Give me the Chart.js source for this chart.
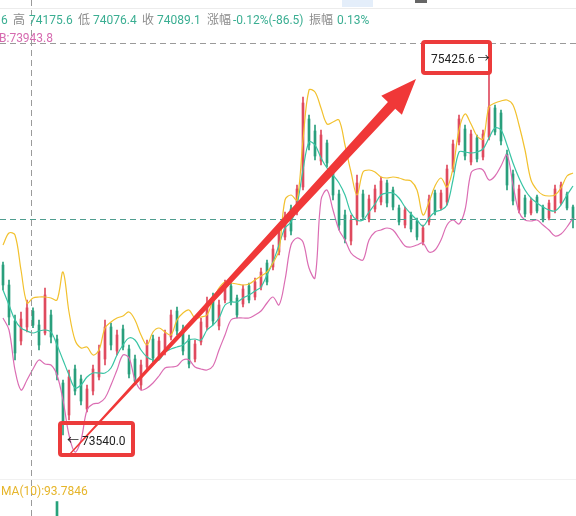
<!DOCTYPE html>
<html>
<head>
<meta charset="utf-8">
<script src="https://cdn.jsdelivr.net/npm/chart.js@4.4.1/dist/chart.umd.min.js"></script>
<style>
body{margin:0;background:#fff;font-family:Roboto,"Noto Sans CJK SC",sans-serif}
#wrap{position:relative;width:576px;height:516px;overflow:hidden;background:#fff}
#wrap canvas{position:absolute;left:0;top:0}
.t{position:absolute;font-size:12px;line-height:14px;white-space:nowrap}
.g{color:#8c8c8c}
.v{color:#3aae92}
.tag{position:absolute;border:4px solid #ec3b3b;border-radius:4px;font-size:12px;color:#222;box-sizing:border-box;display:flex;align-items:center;white-space:nowrap}
</style>
</head>
<body>
<div id="wrap">
  <canvas id="kline" width="576" height="516"></canvas>
  <div style="position:absolute;left:0;top:8px;width:576px;height:1px;background:#ececec"></div>
  <div style="position:absolute;left:342px;top:0;width:31px;height:7px;background:#e4eefa"></div>
  <div style="position:absolute;left:415px;top:0;width:12px;height:3px;background:#666"></div>

  <span class="t v" style="left:1px;top:13px">6</span>
  <span class="t g" style="left:13px;top:13px">高</span>
  <span class="t v" style="left:29px;top:13px">74175.6</span>
  <span class="t g" style="left:78px;top:13px">低</span>
  <span class="t v" style="left:93px;top:13px">74076.4</span>
  <span class="t g" style="left:142px;top:13px">收</span>
  <span class="t v" style="left:157px;top:13px">74089.1</span>
  <span class="t g" style="left:207px;top:13px">涨幅</span>
  <span class="t v" style="left:233px;top:13px">-0.12%(-86.5)</span>
  <span class="t g" style="left:309px;top:13px">振幅</span>
  <span class="t v" style="left:337px;top:13px">0.13%</span>
  <span class="t" style="left:-1px;top:31px;color:#d66bb0">B:73943.8</span>

  <div style="position:absolute;left:0;top:479px;width:576px;height:1px;background:#f1f1f1"></div>
  <span class="t" style="left:1px;top:484px;color:#e6b52a">MA(10):93.7846</span>

  <div class="tag" id="lowTag" style="width:77px;height:36px;padding-left:5px">← 73540.0</div>
  <div class="tag" id="highTag" style="width:71px;height:35px;padding-left:6px">75425.6 →</div>
</div>
<script>
// 1-minute candles (price)
let opens = [74390,74290,74110,74010,74080,74160,74090,74050,74140,74020,
  73800,73640,73870,73820,73670,73760,73830,73920,74080,73960,
  74070,73970,73920,73790,73880,74020,73930,73960,74030,74160,
  74070,74020,73920,74005,74080,74230,74085,74215,74285,74225,
  74195,74285,74230,74280,74400,74380,74455,74530,74670,74655,
  74780,75120,75060,74910,75000,74870,74745,74640,74510,74610,
  74745,74620,74670,74705,74800,74765,74675,74590,74640,74610,
  74505,74605,74750,74675,74705,74870,75005,75070,74905,75025,
  74930,75030,75175,75150,74945,74845,74665,74725,74650,74730,
  74680,74625,74665,74700,74745,74680]
let highs = [74405,74315,74140,74155,74215,74175.6,74115,74275,74165,74040,
  73815,73865,73890,73840,73790,73890,73990,74115,74100,74065,
  74090,73990,73940,73915,74015,74040,74030,74065,74165,74180,
  74090,74040,74015,74125,74230,74250,74215,74315,74300,74240,
  74290,74300,74325,74375,74415,74490,74590,74655,74690,74790,
  75230,75140,75090,75065,75015,74890,74765,74665,74640,74840,
  74765,74740,74790,74830,74815,74780,74690,74680,74655,74625,
  74590,74740,74765,74765,74890,75015,75140,75090,75065,75040,
  75065,75425.6,75190,75165,74965,74865,74790,74740,74725,74740,
  74690,74715,74790,74805,74755,74690]
let lows = [74265,74090,73915,73990,74055,74076.4,73965,74040,74000,73815,
  73540,73615,73740,73690,73655,73740,73815,73890,73965,73940,
  73965,73825,73790,73765,73865,73905,73915,73940,74015,74040,
  73940,73875,73905,73990,74065,74090,74065,74200,74190,74125,
  74180,74200,74215,74265,74290,74365,74440,74515,74540,74640,
  74765,74965,74915,74890,74880,74715,74565,74500,74490,74590,
  74615,74605,74655,74690,74680,74665,74590,74575,74555,74515,
  74490,74590,74640,74665,74690,74855,74990,74915,74890,74905,
  74915,75015,75040,74990,74765,74690,74650,74630,74640,74650,
  74605,74615,74650,74690,74665,74575]
let closes = [74290,74130,73950,74120,74175.6,74089.1,73990,74240,74030,73840,
  73610,73830,73760,73710,73770,73870,73960,74080,73990,74040,
  73980,73845,73810,73890,73990,73925,74010,74045,74140,74060,
  73960,73895,73995,74105,74200,74110,74190,74295,74205,74140,
  74270,74215,74305,74355,74305,74470,74570,74635,74560,74770,
  75200,74990,74935,75040,74900,74740,74590,74520,74615,74800,
  74630,74720,74770,74810,74700,74680,74605,74665,74570,74530,
  74575,74720,74655,74750,74870,74995,75120,74935,75045,74920,
  75045,75180,75055,75010,74790,74710,74770,74645,74710,74660,
  74615,74700,74770,74790,74675,74620]

// bollinger bands (upper / mid / lower)
let upper = [74490,74550,74540,74365,74200,74225,74230,74230,74225,74215,
  74355,74155,74015,73975,73980,73940,73965,74075,74105,74125,
  74135,74155,74115,74040,73990,74055,74075,74055,74040,74115,
  74150,74165,74125,74130,74140,74215,74275,74305,74300,74295,
  74290,74295,74315,74335,74355,74400,74465,74715,74740,74715,
  75015,75265,75255,75175,75095,75105,75115,74990,74855,74740,
  74855,74865,74855,74830,74825,74830,74825,74815,74810,74765,
  74640,74705,74785,74825,74780,74875,75065,75145,75095,75035,
  75020,75180,75200,75210,75215,75190,75090,74965,74815,74765,
  74740,74735,74740,74775,74835,74850]
let mid = [74265,74190,74115,74075,74060,74050,74060,74065,74055,73990,
  73915,73840,73775,73790,73830,73850,73850,73850,73875,73940,
  73990,74025,74015,73965,73930,73915,73915,73955,73970,73980,
  73990,74015,74020,74015,74065,74090,74125,74190,74205,74205,
  74225,74240,74260,74280,74340,74405,74490,74575,74605,74690,
  74865,75005,74990,74925,74875,74840,74800,74740,74650,74615,
  74615,74655,74695,74740,74750,74750,74725,74680,74645,74615,
  74585,74625,74655,74665,74690,74815,74955,74955,74950,74955,
  74970,75025,75075,75065,74990,74900,74825,74765,74725,74700,
  74680,74665,74660,74690,74740,74785]
let lower = [74125,74065,73865,73765,73815,73870,73915,73895,73890,73840,
  73715,73540,73455,73515,73665,73695,73700,73725,73790,73865,
  73940,73925,73815,73765,73775,73800,73835,73875,73880,73885,
  73915,73915,73880,73870,73865,73885,73965,74040,74115,74125,
  74125,74125,74140,74160,74200,74230,74190,74315,74490,74525,
  74505,74375,74325,74715,74765,74665,74565,74515,74450,74425,
  74415,74515,74555,74565,74575,74565,74525,74485,74480,74490,
  74500,74455,74465,74515,74590,74615,74595,74665,74850,74870,
  74865,74815,74835,74885,74940,74790,74655,74615,74610,74615,
  74590,74565,74535,74545,74580,74625]

// volume pane: only one bar pokes into the crop
let volume = opens.map(() => null)
volume[9] = 2.8

let labels = opens.map((o, i) => String(i))
let crossIndex = 5, crossPrice = 75500
let upColor = '#df4a5e', downColor = '#2a9f7c'

let candleColor = opens.map((o, i) => closes[i] >= o ? upColor : downColor)
let wicks = lows.map((l, i) => [l, highs[i]])
let bodies = opens.map((o, i) => [o, closes[i]])

let iLow = lows.indexOf(Math.min(...lows))
let iHigh = highs.indexOf(Math.max(...highs))

const overlay = {
  id: 'overlay',
  afterDatasetsDraw(chart) {
    const { ctx, scales: { x, y } } = chart
    const W = chart.width, H = chart.height
    ctx.save()
    ctx.lineWidth = 1
    ctx.setLineDash([6, 4])

    // last price line
    ctx.strokeStyle = '#4f9d8f'
    let py = Math.round(y.getPixelForValue(closes[closes.length - 1])) + 0.5
    ctx.beginPath(); ctx.moveTo(0, py); ctx.lineTo(W, py); ctx.stroke()

    // crosshair
    ctx.strokeStyle = '#9a9a9a'
    let cx = Math.round(x.getPixelForValue(crossIndex)) - 1.5
    let cy = Math.round(y.getPixelForValue(crossPrice)) + 0.5
    ctx.beginPath(); ctx.moveTo(0, cy); ctx.lineTo(W, cy); ctx.stroke()
    ctx.beginPath(); ctx.moveTo(cx, 0); ctx.lineTo(cx, H); ctx.stroke()
    ctx.setLineDash([])

    // red arrow from the low to the high
    let lx = x.getPixelForValue(iLow), ly = y.getPixelForValue(lows[iLow])
    let hx = x.getPixelForValue(iHigh), hy = y.getPixelForValue(highs[iHigh])
    let tail = [lx + 6, ly + 20], tip = [hx - 73, hy + 21]
    let dx = tip[0] - tail[0], dy = tip[1] - tail[1]
    let len = Math.hypot(dx, dy)
    let ux = dx / len, uy = dy / len, nx = -uy, ny = ux
    let neck = [tip[0] - ux * 36, tip[1] - uy * 36]
    ctx.fillStyle = '#f03838'
    ctx.beginPath()
    ctx.moveTo(tail[0] + nx * 0.6, tail[1] + ny * 0.6)
    ctx.lineTo(neck[0] + nx * 5, neck[1] + ny * 5)
    ctx.lineTo(neck[0] + nx * 14, neck[1] + ny * 14)
    ctx.lineTo(tip[0], tip[1])
    ctx.lineTo(neck[0] - nx * 14, neck[1] - ny * 14)
    ctx.lineTo(neck[0] - nx * 5, neck[1] - ny * 5)
    ctx.lineTo(tail[0] - nx * 0.6, tail[1] - ny * 0.6)
    ctx.closePath()
    ctx.fill()
    ctx.restore()
  },
  afterRender(chart) {
    const { scales: { x, y } } = chart
    let lowTag = document.getElementById('lowTag')
    let highTag = document.getElementById('highTag')
    lowTag.style.left = (x.getPixelForValue(iLow) - 5) + 'px'
    lowTag.style.top = (y.getPixelForValue(lows[iLow]) - 14) + 'px'
    highTag.style.left = (x.getPixelForValue(iHigh) - 68) + 'px'
    highTag.style.top = (y.getPixelForValue(highs[iHigh]) - 18) + 'px'
  }
}

const kline = document.getElementById('kline')
const band = (data, color) => ({
  type: 'line', data, borderColor: color, borderWidth: 1.2,
  pointRadius: 0, tension: 0.35, order: 0
})

new Chart(kline, {
  type: 'bar',
  data: {
    labels: labels,
    datasets: [
      band(upper, '#f2c12e'),
      band(mid, '#38c4a4'),
      band(lower, '#db6db3'),
      { data: bodies, backgroundColor: candleColor, barThickness: 2, grouped: false, minBarLength: 1, order: 1 },
      { data: wicks, backgroundColor: candleColor, barThickness: 1, grouped: false, order: 2 },
      { data: volume, backgroundColor: '#27a27b', barThickness: 2, grouped: false, yAxisID: 'vol', order: 3 }
    ]
  },
  options: {
    responsive: false,
    animation: false,
    layout: { padding: 0 },
    plugins: { legend: { display: false }, tooltip: { enabled: false } },
    scales: {
      x: { display: false },
      y: { display: false, min: 73135, max: 75715 },
      vol: { display: false, min: 0, max: 100 }
    }
  },
  plugins: [overlay]
})
</script>
</body>
</html>
